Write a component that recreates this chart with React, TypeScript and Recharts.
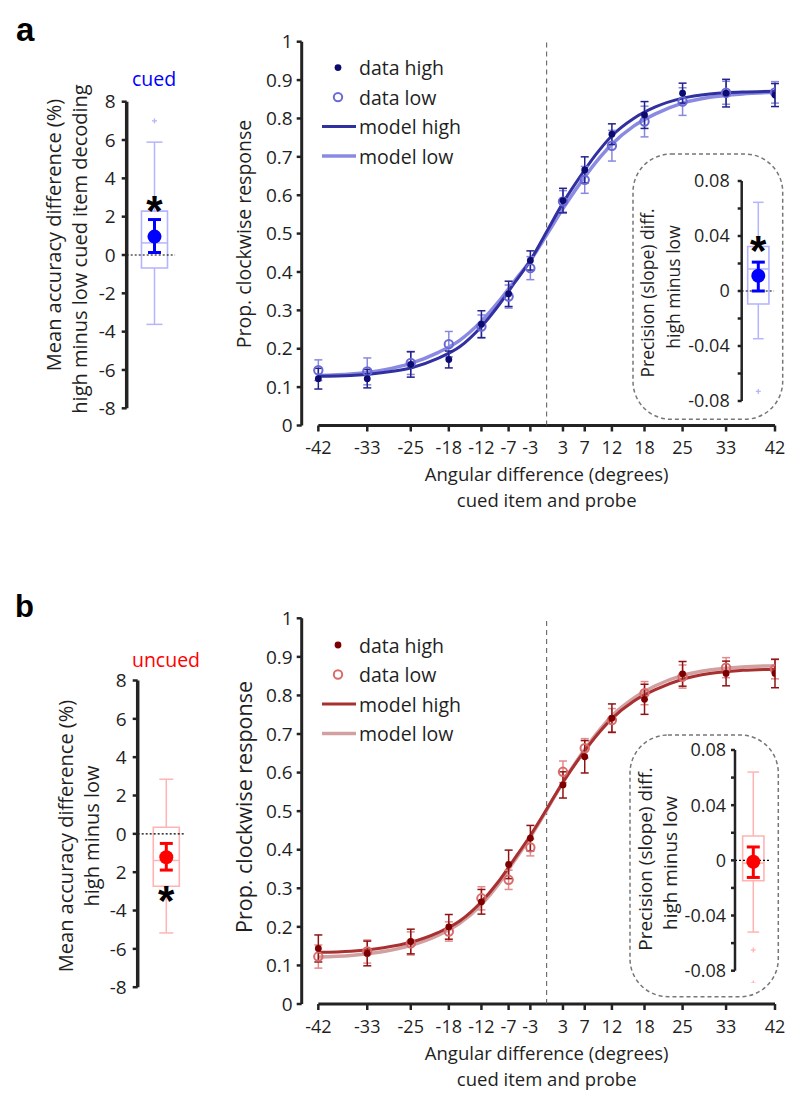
import React from "react";
import {
  ComposedChart,
  XAxis,
  YAxis,
  Line,
  Scatter,
  ErrorBar,
  ReferenceLine,
  ReferenceArea,
  ReferenceDot,
} from "recharts";

const FONT = '"Open Sans", sans-serif';
const AXIS = "#232323";
const INK = "#1f1f1f";

// main psychometric panels
const angles = [-42, -33, -25, -18, -12, -7, -3, 3, 7, 12, 18, 25, 33, 42];
const propTicks = [0, 0.1, 0.2, 0.3, 0.4, 0.5, 0.6, 0.7, 0.8, 0.9, 1];

const aDataHigh = [0.122, 0.122, 0.159, 0.172, 0.264, 0.343, 0.43, 0.586, 0.666, 0.759, 0.809, 0.866, 0.866, 0.861];
const aErrHigh = [0.027, 0.024, 0.033, 0.022, 0.035, 0.033, 0.025, 0.032, 0.034, 0.027, 0.035, 0.026, 0.036, 0.03];
const aDataLow = [0.144, 0.141, 0.163, 0.212, 0.258, 0.336, 0.41, 0.584, 0.64, 0.729, 0.792, 0.844, 0.867, 0.868];
const aErrLow = [0.027, 0.035, 0.03, 0.033, 0.03, 0.03, 0.03, 0.028, 0.035, 0.04, 0.04, 0.036, 0.03, 0.028];

const bDataHigh = [0.144, 0.131, 0.162, 0.2, 0.265, 0.362, 0.43, 0.568, 0.641, 0.741, 0.79, 0.856, 0.857, 0.857];
const bErrHigh = [0.035, 0.032, 0.032, 0.032, 0.032, 0.037, 0.033, 0.034, 0.042, 0.037, 0.039, 0.032, 0.032, 0.037];
const bDataLow = [0.123, 0.136, 0.157, 0.188, 0.274, 0.322, 0.406, 0.602, 0.663, 0.736, 0.806, 0.849, 0.872, 0.868];
const bErrLow = [0.03, 0.03, 0.03, 0.025, 0.03, 0.025, 0.022, 0.028, 0.025, 0.03, 0.03, 0.03, 0.026, 0.025];

// fitted curves
const curveX = [-42, -36, -30, -25, -20, -16, -12, -9, -6, -3, 0, 3, 6, 9, 12, 16, 20, 25, 30, 36, 42];
const aModelHigh = [0.128, 0.13, 0.138, 0.15, 0.175, 0.205, 0.258, 0.31, 0.37, 0.43, 0.505, 0.58, 0.645, 0.705, 0.755, 0.8, 0.83, 0.853, 0.864, 0.869, 0.871];
const aModelLow = [0.13, 0.134, 0.145, 0.162, 0.19, 0.222, 0.272, 0.32, 0.375, 0.43, 0.497, 0.565, 0.628, 0.685, 0.733, 0.78, 0.812, 0.84, 0.855, 0.864, 0.868];
const bModelHigh = [0.134, 0.137, 0.146, 0.16, 0.185, 0.215, 0.265, 0.315, 0.375, 0.437, 0.505, 0.575, 0.637, 0.693, 0.74, 0.785, 0.815, 0.842, 0.857, 0.865, 0.868];
const bModelLow = [0.122, 0.126, 0.136, 0.152, 0.178, 0.209, 0.258, 0.308, 0.37, 0.433, 0.503, 0.575, 0.64, 0.698, 0.747, 0.793, 0.825, 0.852, 0.866, 0.874, 0.877];

// box plots: [min whisker, q1, median, q3, max whisker]
const accTicks = [-8, -6, -4, -2, 0, 2, 4, 6, 8];
const cuedBox = [-3.62, -0.68, 0.63, 2.29, 5.89];
const cuedOutliers = [7.0];
const cuedMean = [0.96, 0.13, 1.85]; // mean, lower, upper
const cuedStar = 2.8;

const uncuedBox = [-5.17, -2.73, -1.39, 0.345, 2.85];
const uncuedOutliers: number[] = [];
const uncuedMean = [-1.22, -1.89, -0.5];
const uncuedStar = -2.99;

const slopeTicks = [-0.08, -0.06, -0.04, -0.02, 0, 0.02, 0.04, 0.06, 0.08];
const slopeBoxA = [-0.0347, -0.0095, 0.016, 0.0324, 0.0645];
const slopeOutliersA = [-0.073];
const slopeMeanA = [0.0111, 0.0, 0.021];
const slopeStarA = 0.036;

const slopeBoxB = [-0.052, -0.0148, -0.002, 0.0176, 0.064];
const slopeOutliersB = [-0.065, -0.089];
const slopeMeanB = [-0.001, -0.0124, 0.0097];

const blues = {
  dataHigh: "#0b0b70",
  errHigh: "#23238a",
  dataLow: "#6a6ad6",
  errLow: "#8888e0",
  modelHigh: "#3030a0",
  modelLow: "#8a8ae2",
};
const reds = {
  dataHigh: "#7c0000",
  errHigh: "#8e1414",
  dataLow: "#d86a6a",
  errLow: "#e48a8a",
  modelHigh: "#a83030",
  modelLow: "#d2a0a0",
};

const pts = (xs: number[], ys: number[], es?: number[]) =>
  xs.map((x, i) => ({ x, y: ys[i], e: es ? es[i] : 0 }));

const tickStyle = { fill: INK, fontSize: 19, fontFamily: FONT };
const xTickStyle = { fill: INK, fontSize: 18, fontFamily: FONT };
const insetTickStyle = { fill: INK, fontSize: 18, fontFamily: FONT };

function MainPanel(props: any) {
  const { top, marginTop, xHeight, high, highErr, low, lowErr, mHigh, mLow, pal } = props;
  return (
    <div style={{ position: "absolute", left: 230, top, width: 560, height: 490 }}>
      <ComposedChart width={560} height={490} margin={{ top: marginTop, right: 15, bottom: 0, left: 0 }}>
        <XAxis
          type="number"
          dataKey="x"
          domain={[-45.06, 42]}
          ticks={angles}
          interval={0}
          allowDataOverflow
          axisLine={false}
          tickLine={{ stroke: AXIS, strokeWidth: 2.5 }}
          tickSize={6}
          tickMargin={10}
          tick={xTickStyle}
          height={xHeight}
        />
        <YAxis
          type="number"
          domain={[0, 1]}
          ticks={propTicks}
          interval={0}
          width={71.7}
          axisLine={{ stroke: AXIS, strokeWidth: 3 }}
          tickLine={{ stroke: AXIS, strokeWidth: 2.5 }}
          tickSize={5}
          tickMargin={4}
          tick={tickStyle}
        />
        <ReferenceLine segment={[{ x: -42, y: 0 }, { x: 42, y: 0 }]} stroke={AXIS} strokeWidth={3} />
        <ReferenceLine x={0} stroke="#555" strokeDasharray="5 4" strokeWidth={1} />
        <Line data={pts(curveX, mLow)} dataKey="y" type="monotone" stroke={pal.modelLow} strokeWidth={3.5} dot={false} isAnimationActive={false} />
        <Line data={pts(curveX, mHigh)} dataKey="y" type="monotone" stroke={pal.modelHigh} strokeWidth={3} dot={false} isAnimationActive={false} />
        <Scatter
          data={pts(angles, low, lowErr)}
          dataKey="y"
          isAnimationActive={false}
          shape={(p: any) => <circle cx={p.cx} cy={p.cy} r={4.2} fill="none" stroke={pal.dataLow} strokeWidth={2} />}
        >
          <ErrorBar dataKey="e" direction="y" width={4} stroke={pal.errLow} strokeWidth={1.5} />
        </Scatter>
        <Scatter
          data={pts(angles, high, highErr)}
          dataKey="y"
          isAnimationActive={false}
          shape={(p: any) => <circle cx={p.cx} cy={p.cy} r={3.4} fill={pal.dataHigh} />}
        >
          <ErrorBar dataKey="e" direction="y" width={4} stroke={pal.errHigh} strokeWidth={1.5} />
        </Scatter>
      </ComposedChart>
    </div>
  );
}

const plus = (color: string) => (p: any) => (
  <g>
    <line x1={p.cx - 2.5} y1={p.cy} x2={p.cx + 2.5} y2={p.cy} stroke={color} strokeWidth={1.3} />
    <line x1={p.cx} y1={p.cy - 2.5} x2={p.cx} y2={p.cy + 2.5} stroke={color} strokeWidth={1.3} />
  </g>
);

const STAR_SIZE = 42;
const star = (p: any) => (
  <text
    x={p.cx}
    y={p.cy + STAR_SIZE * 0.57}
    textAnchor="middle"
    fontSize={STAR_SIZE}
    fontWeight="bold"
    fontFamily='"Liberation Sans", Arial, sans-serif'
    fill="#000"
  >
    *
  </text>
);

function BoxPanel(props: any) {
  const {
    left, top, width, height, margin, yWidth, domain, ticks, fmt, tick,
    box, outliers, mean, starY, light, strong, half, cap, zeroEnd,
    axisW, tickSize, tickMargin, meanR, meanCap,
  } = props;
  const [lo, q1, med, q3, hi] = box;
  const meanData = [{ x: 1, y: mean[0], e: [mean[0] - mean[1], mean[2] - mean[0]] }];
  return (
    <div style={{ position: "absolute", left, top, width, height }}>
      <ComposedChart width={width} height={height} margin={margin}>
        <XAxis type="number" dataKey="x" domain={[0, 2]} hide />
        <YAxis
          type="number"
          domain={domain}
          ticks={ticks}
          interval={0}
          width={yWidth}
          tickFormatter={fmt}
          axisLine={{ stroke: AXIS, strokeWidth: axisW }}
          tickLine={{ stroke: AXIS, strokeWidth: 2.5 }}
          tickSize={tickSize}
          tickMargin={tickMargin}
          tick={tick}
        />
        <ReferenceLine segment={[{ x: 1, y: q3 }, { x: 1, y: hi }]} stroke={light} strokeWidth={1.5} />
        <ReferenceLine segment={[{ x: 1, y: lo }, { x: 1, y: q1 }]} stroke={light} strokeWidth={1.5} />
        <ReferenceLine segment={[{ x: 1 - cap, y: hi }, { x: 1 + cap, y: hi }]} stroke={light} strokeWidth={1.5} />
        <ReferenceLine segment={[{ x: 1 - cap, y: lo }, { x: 1 + cap, y: lo }]} stroke={light} strokeWidth={1.5} />
        <ReferenceArea x1={1 - half} x2={1 + half} y1={q1} y2={q3} fill="#fff" fillOpacity={0} stroke={light} strokeWidth={1.6} />
        <ReferenceLine segment={[{ x: 1 - half, y: med }, { x: 1 + half, y: med }]} stroke={light} strokeWidth={1.5} />
        <ReferenceLine segment={[{ x: 0, y: 0 }, { x: zeroEnd, y: 0 }]} stroke="#000" strokeWidth={1.2} strokeDasharray="2 2" />
        {outliers.map((o: number, i: number) => (
          <ReferenceDot key={i} x={1} y={o} r={2} ifOverflow="visible" shape={plus(light)} />
        ))}
        <Scatter
          data={meanData}
          dataKey="y"
          isAnimationActive={false}
          shape={(p: any) => <circle cx={p.cx} cy={p.cy} r={meanR} fill={strong} />}
        >
          <ErrorBar dataKey="e" direction="y" width={meanCap} stroke={strong} strokeWidth={3} />
        </Scatter>
        {starY !== null && <ReferenceDot x={1} y={starY} r={1} ifOverflow="visible" shape={star} />}
      </ComposedChart>
    </div>
  );
}

function VText({ x, y, size, children, color }: any) {
  return (
    <text
      transform={`translate(${x},${y}) rotate(-90)`}
      textAnchor="middle"
      dominantBaseline="central"
      fontSize={size}
      fontFamily={FONT}
      fill={color || INK}
    >
      {children}
    </text>
  );
}

function HText({ x, y, size, children, color, anchor }: any) {
  return (
    <text x={x} y={y} textAnchor={anchor || "middle"} dominantBaseline="central" fontSize={size} fontFamily={FONT} fill={color || INK}>
      {children}
    </text>
  );
}

function LegendBlock({ y0, pal }: any) {
  const rows = [y0, y0 + 29.5, y0 + 59, y0 + 88.5];
  return (
    <g>
      <circle cx={338} cy={rows[0]} r={3.4} fill={pal.dataHigh} />
      <circle cx={338} cy={rows[1]} r={4.2} fill="none" stroke={pal.dataLow} strokeWidth={2} />
      <line x1={322} y1={rows[2]} x2={356} y2={rows[2]} stroke={pal.modelHigh} strokeWidth={3} />
      <line x1={322} y1={rows[3]} x2={356} y2={rows[3]} stroke={pal.modelLow} strokeWidth={3.5} />
      <HText x={359} y={rows[0]} size={19.5} anchor="start">data high</HText>
      <HText x={359} y={rows[1]} size={19.5} anchor="start">data low</HText>
      <HText x={359} y={rows[2]} size={19.5} anchor="start">model high</HText>
      <HText x={359} y={rows[3]} size={19.5} anchor="start">model low</HText>
    </g>
  );
}

const slopeFmt = (v: number) => (Math.round(Math.abs(v) * 100) % 4 === 0 ? String(v) : "");

export default function App() {
  return (
    <div style={{ position: "absolute", left: 0, top: 0, width: 800, height: 1102, background: "#fff" }}>
      <svg width={800} height={1102} style={{ position: "absolute", left: 0, top: 0 }}>
        <text x={16} y={41} fontSize={33} fontWeight="bold" fontFamily='"Liberation Sans", Arial, sans-serif' fill="#000">a</text>
        <text x={15} y={617} fontSize={31} fontWeight="bold" fontFamily='"Liberation Sans", Arial, sans-serif' fill="#000">b</text>

        <HText x={154} y={78} size={19.5} color="#0000ff">cued</HText>
        <VText x={53.3} y={235} size={20}>Mean accuracy difference (%)</VText>
        <VText x={79} y={249} size={20}>high minus low cued item decoding</VText>

        <HText x={166} y={659} size={19.5} color="#ff0000">uncued</HText>
        <VText x={65} y={836} size={20}>Mean accuracy difference (%)</VText>
        <VText x={91.7} y={836} size={20}>high minus low</VText>

        <VText x={243} y={234} size={19.5}>Prop. clockwise response</VText>
        <VText x={243} y={807} size={21.5}>Prop. clockwise response</VText>

        <HText x={546.7} y={473} size={18.5}>Angular difference (degrees)</HText>
        <HText x={546.7} y={499} size={18.5}>cued item and probe</HText>
        <HText x={546.7} y={1052} size={18.5}>Angular difference (degrees)</HText>
        <HText x={546.7} y={1078} size={18.5}>cued item and probe</HText>

        <LegendBlock y0={67.6} pal={blues} />
        <LegendBlock y0={645} pal={reds} />

        <rect x={633} y={154} width={149.7} height={265.3} rx={38} fill="none" stroke="#777" strokeWidth={1.5} strokeDasharray="4 3" />
        <rect x={630} y={735} width={148.3} height={261.7} rx={38} fill="none" stroke="#777" strokeWidth={1.5} strokeDasharray="4 3" />
        <VText x={647} y={293} size={17.5}>Precision (slope) diff.</VText>
        <VText x={673} y={287} size={17.5}>high minus low</VText>
        <VText x={645} y={859} size={19}>Precision (slope) diff.</VText>
        <VText x={670} y={863} size={19}>high minus low</VText>
      </svg>

      <MainPanel top={20} marginTop={21.7} xHeight={84.5} high={aDataHigh} highErr={aErrHigh} low={aDataLow} lowErr={aErrLow} mHigh={aModelHigh} mLow={aModelLow} pal={blues} />
      <MainPanel top={598} marginTop={20.3} xHeight={84} high={bDataHigh} highErr={bErrHigh} low={bDataLow} lowErr={bErrLow} mHigh={bModelHigh} mLow={bModelLow} pal={reds} />

      <BoxPanel
        left={0} top={80} width={200} height={340}
        margin={{ top: 21.7, right: 17.7, bottom: 11.7, left: 0 }}
        yWidth={126.7} domain={[-8, 8]} ticks={accTicks} fmt={(v: number) => String(v)} tick={tickStyle}
        box={cuedBox} outliers={cuedOutliers} mean={cuedMean} starY={cuedStar}
        light="#b4b4ff" strong="#0000ff" half={0.468} cap={0.288} zeroEnd={1.74}
        axisW={3.5} tickSize={5} tickMargin={6} meanR={7} meanCap={6.5}
      />
      <BoxPanel
        left={0} top={660} width={200} height={340}
        margin={{ top: 20.5, right: 5.1, bottom: 12.8, left: 0 }}
        yWidth={137.7} domain={[-8, 8]} ticks={accTicks} fmt={(v: number) => (v === -2 ? "2" : String(v))} tick={tickStyle}
        box={uncuedBox} outliers={uncuedOutliers} mean={uncuedMean} starY={uncuedStar}
        light="#ffb4b4" strong="#ff0000" half={0.455} cap={0.245} zeroEnd={1.65}
        axisW={3.5} tickSize={5} tickMargin={6} meanR={7} meanCap={6.5}
      />
      <BoxPanel
        left={600} top={160} width={190} height={255}
        margin={{ top: 21, right: 15.1, bottom: 14, left: 0 }}
        yWidth={141.7} domain={[-0.08, 0.08]} ticks={slopeTicks} fmt={slopeFmt} tick={insetTickStyle}
        box={slopeBoxA} outliers={slopeOutliersA} mean={slopeMeanA} starY={slopeStarA}
        light="#b4b4ff" strong="#0000ff" half={0.64} cap={0.32} zeroEnd={1.95}
        axisW={2.5} tickSize={4} tickMargin={8} meanR={7} meanCap={6.5}
      />
      <BoxPanel
        left={600} top={728} width={190} height={255}
        margin={{ top: 22, right: 18.4, bottom: 12.3, left: 0 }}
        yWidth={135} domain={[-0.08, 0.08]} ticks={slopeTicks} fmt={slopeFmt} tick={insetTickStyle}
        box={slopeBoxB} outliers={slopeOutliersB} mean={slopeMeanB} starY={null}
        light="#ffb4b4" strong="#ff0000" half={0.582} cap={0.32} zeroEnd={1.86}
        axisW={2.5} tickSize={4} tickMargin={5} meanR={7} meanCap={6.5}
      />
    </div>
  );
}
